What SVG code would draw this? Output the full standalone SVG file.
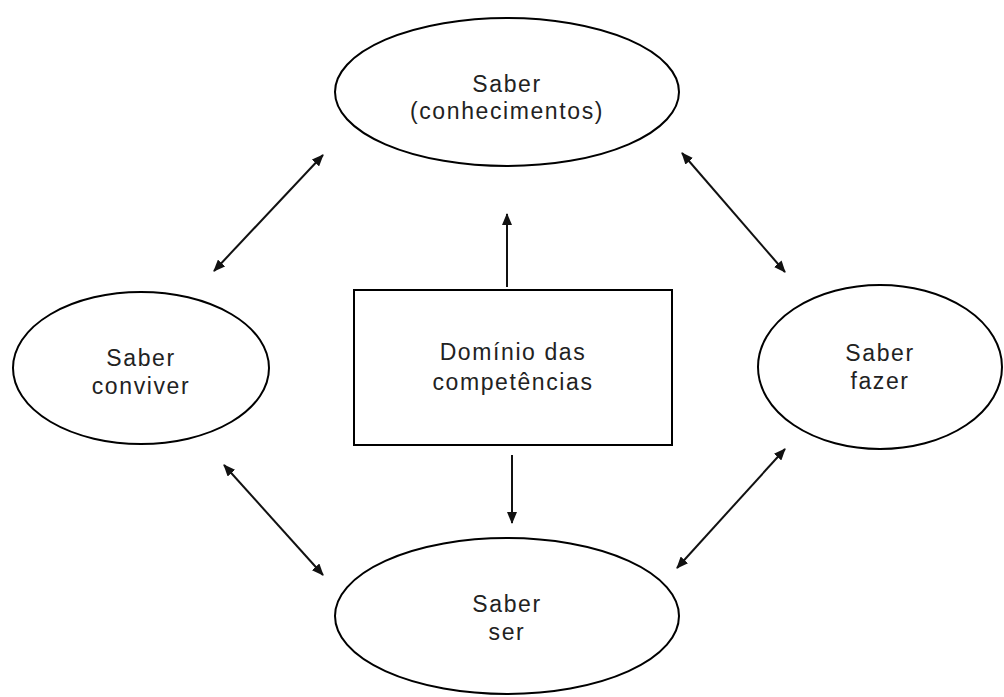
<svg xmlns="http://www.w3.org/2000/svg" width="1004" height="697" viewBox="0 0 1004 697">
<defs>
<style>
.shape{fill:#fff;stroke:#000;stroke-width:2}
.lbl{font-family:"Liberation Sans",Arial,sans-serif;font-size:23px;letter-spacing:1.6px;fill:#222;text-anchor:middle}
.con{stroke:#111;stroke-width:2;fill:none;marker-end:url(#ah)}
.bi{marker-start:url(#ah)}
</style>
<marker id="ah" viewBox="0 0 12 10" refX="11" refY="5" markerWidth="12" markerHeight="10" markerUnits="userSpaceOnUse" orient="auto-start-reverse">
<path d="M0,0 L12,5 L0,10 Z" fill="#111"/>
</marker>
</defs>
<rect width="1004" height="697" fill="#fff"/>
<g id="saber-conhecimentos">
<ellipse class="shape" cx="507" cy="92" rx="172" ry="74"/>
<text class="lbl" x="507" y="92">Saber</text>
<text class="lbl" x="507" y="119">(conhecimentos)</text>
</g>
<g id="saber-conviver">
<ellipse class="shape" cx="141" cy="368" rx="128" ry="76"/>
<text class="lbl" x="141" y="366">Saber</text>
<text class="lbl" x="141" y="394">conviver</text>
</g>
<g id="saber-fazer">
<ellipse class="shape" cx="880" cy="367" rx="122" ry="82"/>
<text class="lbl" x="880" y="361">Saber</text>
<text class="lbl" x="880" y="389">fazer</text>
</g>
<g id="saber-ser">
<ellipse class="shape" cx="507" cy="616" rx="172" ry="78"/>
<text class="lbl" x="507" y="612">Saber</text>
<text class="lbl" x="507" y="640">ser</text>
</g>
<g id="dominio">
<rect class="shape" x="354" y="290" width="318" height="155"/>
<text class="lbl" x="513" y="360">Domínio das</text>
<text class="lbl" x="513" y="390">competências</text>
</g>
<g id="connectors">
<line class="con" x1="507" y1="287" x2="507" y2="214"/>
<line class="con" x1="512" y1="455" x2="512" y2="523"/>
<line class="con bi" x1="214" y1="271" x2="323" y2="155"/>
<line class="con bi" x1="682" y1="153" x2="785" y2="272"/>
<line class="con bi" x1="224" y1="465" x2="323" y2="575"/>
<line class="con bi" x1="677" y1="568" x2="785" y2="449"/>
</g>
</svg>
